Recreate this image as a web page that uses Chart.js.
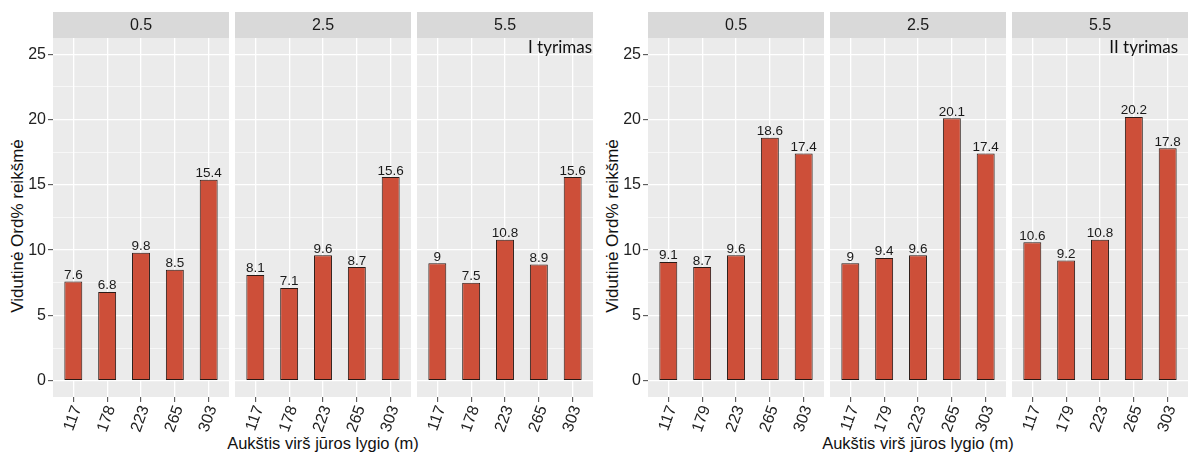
<!DOCTYPE html>
<html><head><meta charset="utf-8">
<script src="https://cdn.jsdelivr.net/npm/chart.js@4/dist/chart.umd.min.js"></script>
<style>
html,body{margin:0;padding:0;background:#fff;}
body{width:1189px;height:455px;overflow:hidden;position:relative;font-family:"Liberation Sans",Arial,sans-serif;}
canvas{position:absolute;top:0;}
.t{position:absolute;white-space:nowrap;color:#111;font-size:16.5px;line-height:1;}
</style></head><body>
<div class="t" style="left:323px;top:443px;transform:translate(-50%,-50%)">Aukštis virš jūros lygio (m)</div>
<div class="t" style="left:918px;top:443px;transform:translate(-50%,-50%)">Aukštis virš jūros lygio (m)</div>
<div class="t" style="left:17px;top:226px;transform:translate(-50%,-50%) rotate(-90deg);font-size:17px">Vidutinė Ord% reikšmė</div>
<div class="t" style="left:612px;top:226px;transform:translate(-50%,-50%) rotate(-90deg);font-size:17px">Vidutinė Ord% reikšmė</div>
<script>
// ---- data ----
const facets = ['0.5', '2.5', '5.5'];
const heights1 = ['117', '178', '223', '265', '303'];
const heights2 = ['117', '179', '223', '265', '303'];
const study1_05 = [7.6, 6.8, 9.8, 8.5, 15.4];
const study1_25 = [8.1, 7.1, 9.6, 8.7, 15.6];
const study1_55 = [9, 7.5, 10.8, 8.9, 15.6];
const study2_05 = [9.1, 8.7, 9.6, 18.6, 17.4];
const study2_25 = [9, 9.4, 9.6, 20.1, 17.4];
const study2_55 = [10.6, 9.2, 10.8, 20.2, 17.8];
const yTicks = [0, 2.5, 5, 7.5, 10, 12.5, 15, 17.5, 20, 22.5, 25];
const notes = ['I tyrimas', 'II tyrimas'];

// ---- layout ----
const FONT = '"Liberation Sans", Arial, sans-serif';
const PANEL_W = 176;
const groups = [
  { labels: heights1, series: [study1_05, study1_25, study1_55], note: notes[0], lefts: [53, 235, 417], axisW: 53, noteRight: 592 },
  { labels: heights2, series: [study2_05, study2_25, study2_55], note: notes[1], lefts: [648, 830, 1012], axisW: 48, noteRight: 1178 }
];

function panelPlugin(facet, note, noteRightCanvas) {
  return {
    id: 'panel',
    beforeDraw(chart) {
      const a = chart.chartArea, ctx = chart.ctx;
      ctx.save();
      ctx.fillStyle = '#EBEBEB';
      ctx.fillRect(a.left, a.top, a.right - a.left, a.bottom - a.top);
      ctx.fillStyle = '#D9D9D9';
      ctx.fillRect(a.left, 12, a.right - a.left, a.top - 12);
      ctx.fillStyle = '#1A1A1A';
      ctx.font = '16px ' + FONT;
      ctx.textAlign = 'center';
      ctx.textBaseline = 'middle';
      ctx.fillText(facet, (a.left + a.right) / 2, (12 + a.top) / 2 + 0.5);
      ctx.restore();
    },
    afterDatasetsDraw(chart) {
      const ctx = chart.ctx;
      const ds = chart.data.datasets[0];
      const meta = chart.getDatasetMeta(0);
      ctx.save();
      ctx.fillStyle = '#1A1A1A';
      ctx.font = '13.5px ' + FONT;
      ctx.textAlign = 'center';
      ctx.textBaseline = 'alphabetic';
      meta.data.forEach((el, i) => {
        ctx.fillText(String(ds.data[i].y), el.x, el.y - 2.5);
      });
      if (note) {
        ctx.fillStyle = '#111';
        ctx.font = '17px Lato, "Open Sans", sans-serif';
        ctx.textAlign = 'right';
        ctx.fillText(note, noteRightCanvas, 53);
      }
      ctx.restore();
    }
  };
}

groups.forEach(g => {
  g.series.forEach((values, pi) => {
    const first = pi === 0;
    const axisW = first ? g.axisW : 0;
    const left = g.lefts[pi] - axisW;
    const cv = document.createElement('canvas');
    cv.width = axisW + PANEL_W;
    cv.height = 455;
    cv.style.left = left + 'px';
    cv.style.width = cv.width + 'px';
    cv.style.height = '455px';
    document.body.appendChild(cv);
    const isLast = pi === 2;
    const labels = g.labels;
    new Chart(cv, {
      type: 'bar',
      data: {
        datasets: [{
          data: values.map((v, i) => ({ x: i, y: v })),
          backgroundColor: '#CD4F39',
          borderColor: '#2A1A16',
          borderWidth: 1,
          borderSkipped: false,
          categoryPercentage: 1,
          barPercentage: 0.53
        }]
      },
      options: {
        responsive: false,
        animation: false,
        devicePixelRatio: 1,
        layout: { padding: { top: 38, left: 0, right: 0, bottom: 0 } },
        plugins: { legend: { display: false }, tooltip: { enabled: false } },
        scales: {
          x: {
            type: 'linear',
            offset: false,
            min: -0.6,
            max: 4.6,
            afterBuildTicks: s => { s.ticks = labels.map((_, i) => ({ value: i })); },
            afterFit: s => { s.height = 58; },
            ticks: {
              autoSkip: false, minRotation: 70, maxRotation: 70, padding: 1, labelOffset: 4,
              color: '#222', font: { family: FONT, size: 16 },
              callback: v => labels[v]
            },
            grid: { offset: false, color: '#FFFFFF', lineWidth: 1.3, tickLength: 5, tickColor: '#444', tickWidth: 1 },
            border: { display: false }
          },
          y: {
            min: -1.25,
            max: 26.25,
            afterBuildTicks: s => { s.ticks = yTicks.map(v => ({ value: v })); },
            afterFit: s => { s.width = axisW; },
            ticks: {
              display: first, autoSkip: false, padding: 2,
              color: '#222', font: { family: FONT, size: 16 },
              callback: v => (v % 5 === 0 ? String(v) : '')
            },
            grid: {
              color: '#FFFFFF',
              lineWidth: c => (c.tick && c.tick.value % 5 === 0 ? 1.3 : 0.6),
              drawTicks: first,
              tickLength: 5,
              tickWidth: 1,
              tickColor: c => (c.tick && c.tick.value % 5 === 0 ? '#444' : 'rgba(0,0,0,0)')
            },
            border: { display: false }
          }
        }
      },
      plugins: [panelPlugin(facets[pi], isLast ? g.note : null, g.noteRight - left)]
    });
  });
});
</script>
</body></html>
